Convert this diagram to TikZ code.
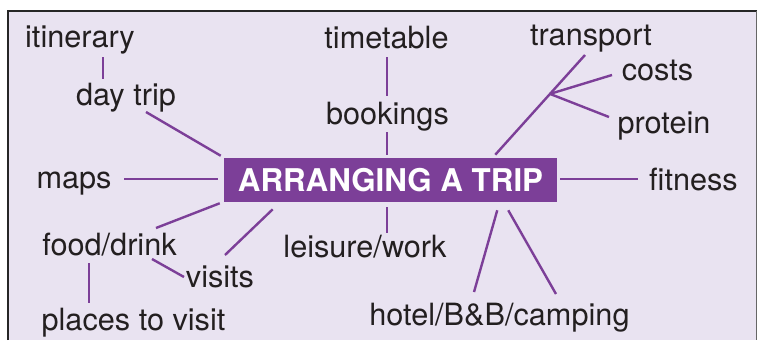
\documentclass[tikz,border=0pt]{standalone}
\usepackage{fontspec}
\setmainfont{TeX Gyre Heros}
\usepackage{tikz}
\usetikzlibrary{calc}
\definecolor{tripviolet}{RGB}{124,63,152}
\definecolor{panel}{RGB}{233,227,241}
\definecolor{ink}{RGB}{35,31,32}

\begin{document}
\begin{tikzpicture}[x=0.75pt, y=-0.75pt,
    topic/.style={anchor=base, inner sep=0pt, text=ink, font=\fontsize{23}{27}\selectfont},
    hub/.style={rectangle, fill=tripviolet, text=white, inner sep=0pt, minimum width=249.75pt, minimum height=33pt, font=\fontsize{23.5}{28}\selectfont\bfseries},
    link/.style={draw=tripviolet, line width=1.8pt}
]
    % panel and frame
    \useasboundingbox (0,0) rectangle (757,340);
    \fill[panel] (7,11) rectangle (757,340);
    \draw[line width=1.5pt, black!85] (8,340) -- (8,11) -- (757,11);
    \draw[line width=0.6pt, black!60] (756.5,11) -- (756.5,340);

    \node[hub] (trip) at (390.5,180) {ARRANGING A TRIP};

    \node[topic] (itinerary) at (80,47) {itinerary};
    \node[topic] (daytrip) at (126,105) {day trip};
    \node[topic] (timetable) at (386.5,48) {timetable};
    \node[topic] (bookings) at (387.5,124) {bookings};
    \node[topic] (transport) at (591,45) {transport};
    \node[topic] (costs) at (657.5,80) {costs};
    \node[topic] (protein) at (664,133) {protein};
    \node[topic] (fitness) at (693.5,190) {fitness};
    \node[topic] (maps) at (74,188) {maps};
    \node[topic] (fooddrink) at (109.5,255) {food/drink};
    \node[topic] (visits) at (220,287) {visits};
    \node[topic] (places) at (133.5,330) {places to visit};
    \node[topic] (leisure) at (365,257) {leisure/work};
    \node[topic] (hotel) at (499.5,325) {hotel/B\&B/camping};

    % upper branches
    \draw[link] ($(itinerary.base)+(23,10)$) -- ($(daytrip.base)+(-23,-26)$);
    \draw[link] ($(daytrip.base)+(20,7)$) -- ($(trip.north west)+(-3,-2)$);
    \draw[link] ($(timetable.base)+(0.5,9)$) -- ($(bookings.base)+(-0.5,-28)$);
    \draw[link] ($(bookings.base)+(-0.5,8)$) -- ($(trip.north)+(-3.5,-3)$);
    \draw[link] ($(trip.north east)+(-62,-3)$) -- coordinate[pos=0.61] (fork) ($(transport.base)+(-6,10)$);
    \draw[link] (fork) -- ($(costs.base)+(-45.5,-5)$);
    \draw[link] (fork) -- ($(protein.base)+(-55,-16)$);

    % side branches
    \draw[link] ($(maps.base)+(50,-9)$) -- ($(trip.west)+(-6,-1)$);
    \draw[link] ($(trip.east)+(3,-1)$) -- ($(fitness.base)+(-55.5,-11)$);

    % lower branches
    \draw[link] ($(fooddrink.base)+(46.5,-27)$) -- ($(trip.south west)+(-4,1)$);
    \draw[link] ($(visits.base)+(5,-32)$) -- ($(trip.south west)+(49,7)$);
    \draw[link] ($(fooddrink.base)+(42.5,4)$) -- ($(visits.base)+(-36,-10)$);
    \draw[link] ($(fooddrink.base)+(-20.5,8)$) -- ($(places.base)+(-44.5,-27)$);
    \draw[link] ($(trip.south)+(-3.5,5)$) -- ($(leisure.base)+(22,-24)$);
    \draw[link] ($(trip.south east)+(-60,8)$) -- ($(hotel.base)+(-25.5,-33)$);
    \draw[link] ($(trip.south east)+(-49,8)$) -- ($(hotel.base)+(56.5,-31)$);
\end{tikzpicture}
\end{document}
